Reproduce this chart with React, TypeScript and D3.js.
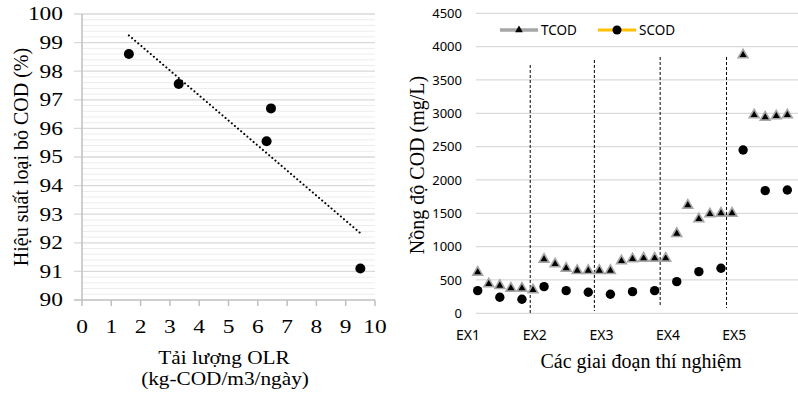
import React from "react";
import * as d3 from "d3";

// left chart: removal efficiency vs organic loading rate
const olr = [1.6, 3.3, 6.3, 6.45, 9.5];
const removal = [98.6, 97.55, 95.55, 96.7, 91.1];
const olrTicks = [0, 1, 2, 3, 4, 5, 6, 7, 8, 9, 10];
const removalTicks = [90, 91, 92, 93, 94, 95, 96, 97, 98, 99, 100];

// right chart: COD per sampling run
const tcod = [615, 440, 415, 375, 375, 350, 810, 740, 675, 640, 640, 640, 640, 785, 815, 825, 825, 825,
    1195, 1620, 1415, 1490, 1500, 1500, 3875, 2975, 2940, 2960, 2975];
const scod = [340, null, 240, null, 210, null, 400, null, 340, null, 315, null, 285, null, 325, null, 340, null,
    475, null, 625, null, 675, null, 2450, null, 1840, null, 1850];
const stages = ["EX1", "EX2", "EX3", "EX4", "EX5"];
const stageLabelAt = [-0.88, 5.15, 11.2, 17.2, 23.2];
const stageBreaks = [4.75, 10.55, 16.5, 22.5];
const breakTop = [3725, 3800, 3845, 3845];
const breakBottom = [-15, 35, 95, 80];
const codTicks = [0, 500, 1000, 1500, 2000, 2500, 3000, 3500, 4000, 4500];

const serif = "'Liberation Serif', 'Times New Roman', serif";
const sans = "'Noto Sans', 'Open Sans', sans-serif";

function LeftChart() {
    const x = d3.scaleLinear().domain([0, 10]).range([82, 375]);
    const y = d3.scaleLinear().domain([90, 100]).range([300, 14]);
    const minor = d3.range(90.2, 100, 0.2).filter(v => Math.abs(v - Math.round(v)) > 0.05);

    // least squares trend line
    const xm = d3.mean(olr), ym = d3.mean(removal);
    const slope = d3.sum(olr, (v, i) => (v - xm) * (removal[i] - ym)) / d3.sum(olr, v => (v - xm) ** 2);
    const [x0, x1] = d3.extent(olr);
    const trend = d3.line()([[x(x0), y(ym + slope * (x0 - xm))], [x(x1), y(ym + slope * (x1 - xm))]]);

    return <g>
        {minor.map(v => <line key={"m" + v} x1={x(0)} x2={x(10)} y1={y(v)} y2={y(v)} stroke="#ececec" strokeWidth={1}/>)}
        {removalTicks.map(v => <line key={v} x1={74} x2={x(10)} y1={y(v)} y2={y(v)}
                                     stroke={v === 90 ? "#bfbfbf" : "#d9d9d9"} strokeWidth={1.3}/>)}
        <line x1={x(0)} x2={x(0)} y1={y(100)} y2={y(90)} stroke="#bfbfbf" strokeWidth={1.5}/>
        {olrTicks.map(v => <line key={"t" + v} x1={x(v)} x2={x(v)} y1={y(90)} y2={y(90) + 6} stroke="#bfbfbf" strokeWidth={1.5}/>)}
        {removalTicks.map(v => <text key={"yl" + v} transform={`translate(63,${y(v)}) scale(1.3,1)`} dy="0.35em"
                                     textAnchor="end" fontFamily={serif} fontSize={18}>{v}</text>)}
        {olrTicks.map(v => <text key={"xl" + v} transform={`translate(${x(v)},333) scale(1.3,1)`}
                                 textAnchor="middle" fontFamily={serif} fontSize={18}>{v}</text>)}
        <path d={trend} stroke="#000" strokeWidth={2} strokeDasharray="0.1 4" strokeLinecap="round" fill="none"/>
        {olr.map((v, i) => <circle key={"p" + i} cx={x(v)} cy={y(removal[i])} r={5} fill="#000"/>)}
        <text transform="translate(28,157) rotate(-90)" textAnchor="middle" fontFamily={serif} fontSize={20}>
            Hiệu suất loại bỏ COD (%)
        </text>
        <text transform="translate(224,364) scale(1.15,1)" textAnchor="middle" fontFamily={serif} fontSize={18.5}>Tải lượng OLR</text>
        <text transform="translate(225,385) scale(1.15,1)" textAnchor="middle" fontFamily={serif} fontSize={18.5}>(kg-COD/m3/ngày)</text>
    </g>;
}

function RightChart() {
    const x = d3.scaleLinear().domain([0, 29]).range([477.7, 798.4]);
    const y = d3.scaleLinear().domain([0, 4500]).range([313.3, 13.3]);
    const tri = d3.symbol(d3.symbolTriangle, 42)();
    const triSmall = d3.symbol(d3.symbolTriangle, 26)();

    return <g>
        {codTicks.map(v => <line key={v} x1={476} x2={798} y1={y(v)} y2={y(v)} stroke="#d9d9d9" strokeWidth={1.3}/>)}
        {codTicks.map(v => <text key={"l" + v} x={462} y={y(v)} dy="0.35em" textAnchor="end"
                                 fontFamily={sans} fontSize={13}>{v}</text>)}
        {stageBreaks.map((b, i) => <line key={"b" + i} x1={x(b)} x2={x(b)} y1={y(breakTop[i])} y2={y(breakBottom[i])}
                                         stroke="#000" strokeWidth={1} strokeDasharray="3 2"/>)}
        {stages.map((s, i) => <text key={s} x={x(stageLabelAt[i])} y={340} textAnchor="middle"
                                    fontFamily={sans} fontSize={14}>{s}</text>)}
        {tcod.map((v, i) => <path key={"t" + i} d={tri} transform={`translate(${x(i)},${y(v)})`}
                                  fill="#000" stroke="#a6a6a6" strokeWidth={1.6}/>)}
        {scod.map((v, i) => v == null ? null :
            <circle key={"s" + i} cx={x(i)} cy={y(v)} r={4.7} fill="#000"/>)}

        <line x1={500} x2={538} y1={30} y2={30} stroke="#a6a6a6" strokeWidth={3.5}/>
        <path d={triSmall} transform="translate(519,30)" fill="#000"/>
        <text x={541} y={30} dy="0.35em" fontFamily={sans} fontSize={13.5}>TCOD</text>
        <line x1={598} x2={636} y1={30} y2={30} stroke="#ffc000" strokeWidth={3}/>
        <circle cx={617} cy={30} r={4.5} fill="#000"/>
        <text x={639} y={30} dy="0.35em" fontFamily={sans} fontSize={13.5}>SCOD</text>

        <text transform="translate(424,165) rotate(-90)" textAnchor="middle" fontFamily={serif} fontSize={20}>
            Nồng độ COD (mg/L)
        </text>
        <text x={641} y={368} textAnchor="middle" fontFamily={serif} fontSize={20}>Các giai đoạn thí nghiệm</text>
    </g>;
}

export default function App() {
    return <svg width={798} height={395} style={{position: "absolute", left: 0, top: 0, background: "#fff"}}>
        <rect width={798} height={395} fill="#fff"/>
        <LeftChart/>
        <RightChart/>
    </svg>;
}
